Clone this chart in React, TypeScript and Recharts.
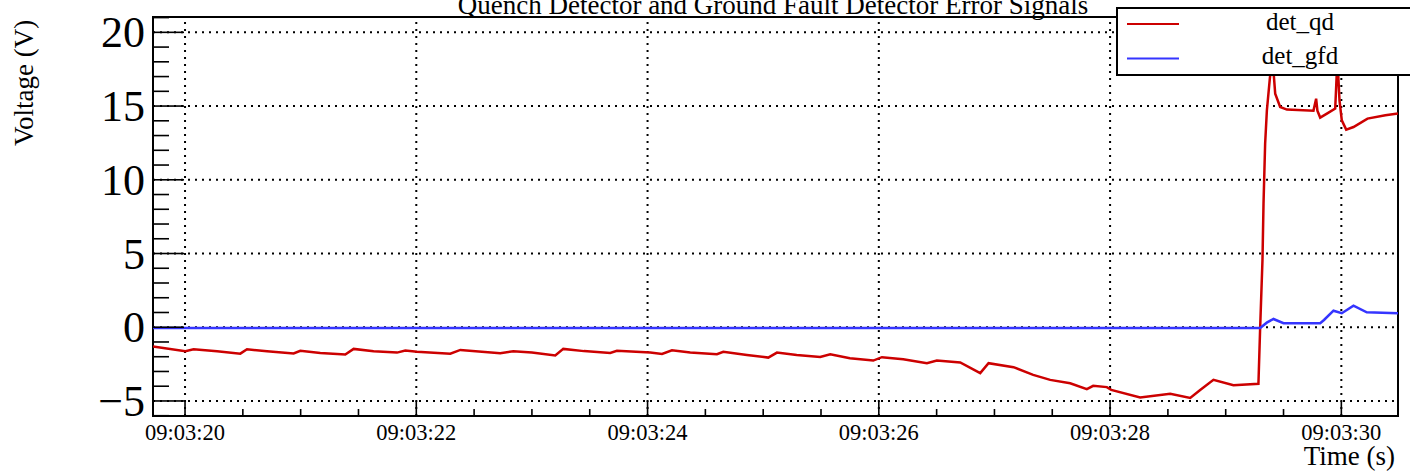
import { Legend, Line, LineChart, ReferenceArea, ReferenceLine, XAxis, YAxis } from 'recharts'

// time in seconds after 09:03:00, voltage in V
const QD_T = [
  19.723, 20.003, 20.074, 20.277, 20.478, 20.536, 20.709, 20.939, 20.997, 21.17,
  21.386, 21.458, 21.631, 21.833, 21.905, 22.006, 22.294, 22.381, 22.726, 22.839,
  23.0, 23.202, 23.271, 23.45, 23.677, 23.735, 24.023, 24.125, 24.211, 24.369,
  24.6, 24.655, 24.859, 25.044, 25.119, 25.29, 25.493, 25.58, 25.75, 25.952,
  26.027, 26.211, 26.416, 26.502, 26.704, 26.877, 26.949, 27.165, 27.335, 27.482,
  27.655, 27.799, 27.854, 27.972, 28.01, 28.26, 28.52, 28.693, 28.779, 28.894,
  29.067, 29.283, 29.298, 29.318, 29.327, 29.341, 29.356, 29.382, 29.398, 29.413,
  29.428, 29.471, 29.529, 29.759, 29.782, 29.793, 29.817, 29.875, 29.947, 29.966,
  29.984, 30.004, 30.042, 30.105, 30.226, 30.381, 30.49,
]
const QD_V = [
  -1.31, -1.62, -1.49, -1.63, -1.79, -1.49, -1.63, -1.78, -1.6, -1.74,
  -1.85, -1.47, -1.63, -1.72, -1.58, -1.66, -1.8, -1.54, -1.76, -1.63,
  -1.72, -1.92, -1.47, -1.62, -1.74, -1.6, -1.72, -1.81, -1.56, -1.72,
  -1.83, -1.67, -1.88, -2.06, -1.72, -1.88, -2.01, -1.83, -2.1, -2.26,
  -2.03, -2.17, -2.44, -2.26, -2.39, -3.11, -2.44, -2.71, -3.23, -3.57,
  -3.8, -4.2, -3.97, -4.06, -4.25, -4.77, -4.52, -4.79, -4.25, -3.57,
  -3.93, -3.84, 0.0, 4.56, 8.4, 12.46, 14.7, 16.9, 18.0, 17.4,
  15.84, 14.94, 14.76, 14.69, 15.5, 14.69, 14.22, 14.49, 14.83, 18.2,
  15.39, 14.03, 13.4, 13.58, 14.15, 14.37, 14.49,
]

const GFD_T = [19.723, 24.5, 29.283, 29.298, 29.355, 29.413, 29.5, 29.817, 29.85, 29.932, 30.004, 30.105, 30.22, 30.49]
const GFD_V = [-0.05, -0.05, -0.05, -0.05, 0.31, 0.56, 0.27, 0.27, 0.49, 1.12, 0.95, 1.46, 1.01, 0.95]

const SERIES_ORDER = ['det_qd', 'det_gfd']

const X_MIN = 19.723
const X_MAX = 30.49
const Y_MIN = -6.02
const Y_MAX = 21.04

const X_MAJOR = [20, 22, 24, 26, 28, 30]
const X_LABELS = ['09:03:20', '09:03:22', '09:03:24', '09:03:26', '09:03:28', '09:03:30']
const X_TICKS = [
  20, 20.5, 21, 21.5, 22, 22.5, 23, 23.5, 24, 24.5, 25, 25.5,
  26, 26.5, 27, 27.5, 28, 28.5, 29, 29.5, 30,
]

const Y_MAJOR = [-5, 0, 5, 10, 15, 20]
const Y_LABELS = ['\u22125', '0', '5', '10', '15', '20']
const Y_TICKS = [
  -6, -5, -4, -3, -2, -1, 0, 1, 2, 3, 4, 5, 6, 7, 8, 9, 10,
  11, 12, 13, 14, 15, 16, 17, 18, 19, 20, 21,
]

const FONT = '"Liberation Serif", "DejaVu Serif", serif'

const qdData = QD_T.map((t, i) => ({ t, v: QD_V[i] }))
const gfdData = GFD_T.map((t, i) => ({ t, v: GFD_V[i] }))

function XTick(props: any) {
  const { x, y, payload } = props
  const idx = X_MAJOR.indexOf(payload.value)
  const major = idx >= 0
  return (
    <g>
      <line x1={x} x2={x} y1={y} y2={y - (major ? 15 : 7)} stroke="#000" strokeWidth={1.6} />
      {major && (
        <text x={x} y={y + 24} textAnchor="middle" fontFamily={FONT} fontSize={22.5} fill="#000">
          {X_LABELS[idx]}
        </text>
      )}
    </g>
  )
}

function YTick(props: any) {
  const { x, y, payload } = props
  const idx = Y_MAJOR.indexOf(payload.value)
  const major = idx >= 0
  return (
    <g>
      <line x1={x} x2={x + (major ? 31 : 16)} y1={y} y2={y} stroke="#000" strokeWidth={1.6} />
      {major && (
        <text x={x - 8} y={y + 15} textAnchor="end" fontFamily={FONT} fontSize={44} fill="#000">
          {Y_LABELS[idx]}
        </text>
      )}
    </g>
  )
}

function LegendBox(props: any) {
  const items = [...(props.payload ?? [])].sort(
    (a: any, b: any) => SERIES_ORDER.indexOf(a.value) - SERIES_ORDER.indexOf(b.value),
  )
  return (
    <svg width={294} height={69} style={{ display: 'block' }}>
      <rect x={1} y={1} width={300} height={67} fill="#fff" stroke="#000" strokeWidth={2} />
      {items.map((item: any, i: number) => (
        <g key={item.value}>
          <line x1={11} x2={63} y1={17 + i * 34.4} y2={17 + i * 34.4} stroke={item.color} strokeWidth={2} />
          <text x={184} y={23 + i * 34.4} textAnchor="middle" fontFamily={FONT} fontSize={25} fill="#000">
            {item.value}
          </text>
        </g>
      ))}
    </svg>
  )
}

export default function App() {
  return (
    <div style={{ position: 'absolute', left: 0, top: 0, width: 1410, height: 472, overflow: 'hidden', background: '#fff' }}>
      <LineChart width={1410} height={472} margin={{ top: 17, right: 12, bottom: 0, left: 0 }}>
        <XAxis
          type="number"
          dataKey="t"
          domain={[X_MIN, X_MAX]}
          allowDataOverflow
          ticks={X_TICKS}
          interval={0}
          tickSize={0}
          tickMargin={0}
          tickLine={false}
          axisLine={false}
          height={56}
          tick={(p: any) => <XTick {...p} />}
          label={{
            content: () => (
              <text x={1395} y={465} textAnchor="end" fontFamily={FONT} fontSize={27} fill="#000">
                Time (s)
              </text>
            ),
          }}
        />
        <YAxis
          type="number"
          domain={[Y_MIN, Y_MAX]}
          allowDataOverflow
          ticks={Y_TICKS}
          interval={0}
          tickSize={0}
          tickMargin={0}
          tickLine={false}
          axisLine={false}
          width={153}
          tick={(p: any) => <YTick {...p} />}
          label={{
            content: () => (
              <text
                x={33}
                y={146}
                transform="rotate(-90 33 146)"
                textAnchor="start"
                fontFamily={FONT}
                fontSize={27}
                fill="#000"
              >
                Voltage (V)
              </text>
            ),
          }}
        />
        {X_MAJOR.map((v) => (
          <ReferenceLine key={`gx${v}`} x={v} stroke="#000" strokeWidth={2} strokeDasharray="2 5" />
        ))}
        {Y_MAJOR.map((v) => (
          <ReferenceLine key={`gy${v}`} y={v} stroke="#000" strokeWidth={2} strokeDasharray="2 5" />
        ))}
        <Line
          data={qdData}
          dataKey="v"
          name="det_qd"
          type="linear"
          stroke="#cc0000"
          strokeWidth={2.5}
          dot={false}
          isAnimationActive={false}
        />
        <Line
          data={gfdData}
          dataKey="v"
          name="det_gfd"
          type="linear"
          stroke="#3535ff"
          strokeWidth={2.5}
          dot={false}
          isAnimationActive={false}
        />
        <ReferenceArea
          x1={X_MIN}
          x2={X_MAX}
          y1={Y_MIN}
          y2={Y_MAX}
          fill="none"
          stroke="#000"
          strokeWidth={2}
          ifOverflow="visible"
        />
        <Legend
          layout="horizontal"
          verticalAlign="middle"
          align="center"
          wrapperStyle={{ left: 1116, top: 7, width: 294, height: 69 }}
          content={(p: any) => <LegendBox {...p} />}
        />
      </LineChart>
      <svg width={1410} height={30} style={{ position: 'absolute', left: 0, top: 0, pointerEvents: 'none' }}>
        <text x={773} y={13.5} textAnchor="middle" fontFamily={FONT} fontSize={27} fill="#000">
          Quench Detector and Ground Fault Detector Error Signals
        </text>
      </svg>
    </div>
  )
}
